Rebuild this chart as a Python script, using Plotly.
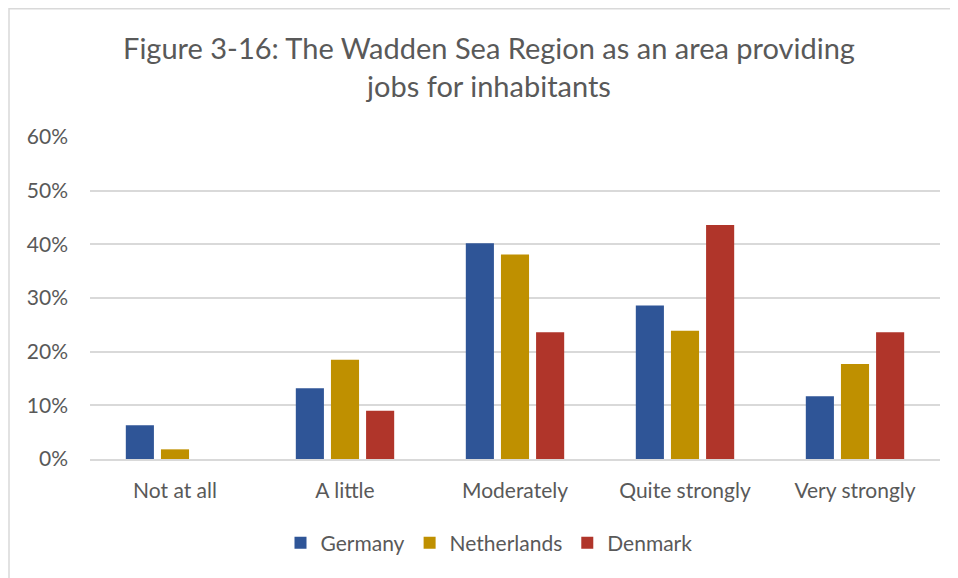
import plotly.graph_objects as go

categories = ["Not at all", "A little", "Moderately", "Quite strongly", "Very strongly"]
germany = [0.063, 0.132, 0.402, 0.286, 0.117]
netherlands = [0.018, 0.185, 0.381, 0.239, 0.177]
denmark = [0.0, 0.090, 0.236, 0.436, 0.236]
series_names = ["Germany", "Netherlands", "Denmark"]
colors = ["#2F5597", "#BF9000", "#B0352A"]
y_ticks = [0, 0.1, 0.2, 0.3, 0.4, 0.5, 0.6]
y_tick_labels = ["0%", "10%", "20%", "30%", "40%", "50%", "60%"]

font_family = "Lato, 'Open Sans', sans-serif"
text_color = "#595959"

W, H = 950, 570
L, R, T, B = 82, 18, 129, 119
PW, PH = W - L - R, H - T - B

fig = go.Figure()
for name, vals, col in zip(series_names, [germany, netherlands, denmark], colors):
    fig.add_trace(go.Bar(
        name=name, x=categories, y=vals,
        marker=dict(color=col, line=dict(width=0)),
    ))

fig.update_layout(
    width=W, height=H,
    margin=dict(l=L, r=R, t=T, b=B),
    paper_bgcolor="white", plot_bgcolor="white",
    barmode="group", bargap=0.38, bargroupgap=0.2,
    font=dict(family=font_family, color=text_color, size=21),
    title=dict(
        text="Figure 3-16: The Wadden Sea Region as an area providing<br>jobs for inhabitants",
        x=481 / W, xanchor="center", xref="container",
        y=1 - 51 / H, yanchor="middle", yref="container",
        font=dict(family=font_family, size=29, color=text_color),
    ),
    legend=dict(
        orientation="h", x=(481 - L) / PW, xanchor="center",
        y=(H - B - 535) / PH, yanchor="middle",
        font=dict(size=21, color=text_color), traceorder="normal",
        itemwidth=30,
    ),
    xaxis=dict(
        showgrid=False, showline=True, linecolor="#D9D9D9", linewidth=1.5,
        ticks="", tickfont=dict(size=21, color=text_color), ticklabelstandoff=12,
    ),
    yaxis=dict(
        range=[0, 0.6], tickvals=y_ticks, ticktext=y_tick_labels,
        showgrid=True, gridcolor="#D9D9D9", gridwidth=1.5,
        zeroline=False, showline=False, ticks="",
        tickfont=dict(size=21, color=text_color), ticklabelstandoff=21,
    ),
    shapes=[dict(
        type="rect", xref="paper", yref="paper",
        x0=(1 - L) / PW, x1=(W + 10 - L) / PW,
        y0=(H - B - (H + 30)) / PH, y1=(H - B - 0.75) / PH,
        line=dict(color="#D9D9D9", width=1.5), fillcolor="rgba(0,0,0,0)", layer="below",
    )],
)

fig.write_html("out.html")
